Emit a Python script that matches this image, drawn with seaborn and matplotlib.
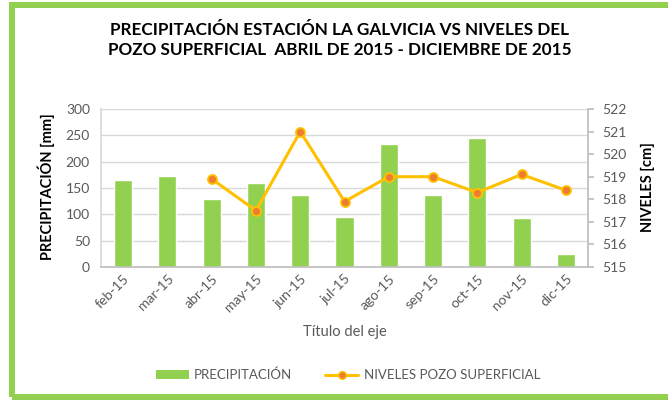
import matplotlib
matplotlib.use("Agg")
import matplotlib.pyplot as plt
from matplotlib.patches import Rectangle
from matplotlib.lines import Line2D
import seaborn as sns
import pandas as pd

months = ["feb-15", "mar-15", "abr-15", "may-15", "jun-15", "jul-15",
          "ago-15", "sep-15", "oct-15", "nov-15", "dic-15"]
precip = [165, 173, 129, 160, 136, 95, 233, 137, 244, 93, 25]
level_months = ["abr-15", "may-15", "jun-15", "jul-15", "ago-15",
                "sep-15", "oct-15", "nov-15", "dic-15"]
levels = [518.9, 517.5, 521.0, 517.9, 519.0, 519.0, 518.3, 519.1, 518.4]

title = ("PRECIPITACIÓN ESTACIÓN LA GALVICIA VS NIVELES DEL\n"
         "POZO SUPERFICIAL  ABRIL DE 2015 - DICIEMBRE DE 2015")
bar_label = "PRECIPITACIÓN"
line_label = "NIVELES POZO SUPERFICIAL"
xlabel = "Título del eje"
ylabel_left = "PRECIPITACIÓN [mm]"
ylabel_right = "NIVELES [cm]"

sns.set_theme(style="white")
plt.rcParams["font.family"] = ["Lato", "DejaVu Sans"]

GREEN = "#92D050"
YELLOW = "#FFC000"
ORANGE = "#ED7D31"
GRAY = "#595959"
GRID = "#D9D9D9"

fig = plt.figure(figsize=(6.68, 4.0), dpi=100)
ax = fig.add_axes([101 / 668, 1 - 267 / 400, (588 - 101) / 668, (267 - 109) / 400])

df_bar = pd.DataFrame({"mes": months, "precip": precip})
sns.barplot(data=df_bar, x="mes", y="precip", order=months, color=GREEN,
            saturation=1, width=0.41, ax=ax, label=bar_label, zorder=2)
ax.set_ylim(0, 300)
ax.set_yticks(range(0, 301, 50))
ax.set_xlim(-0.5, len(months) - 0.5)
ax.yaxis.grid(True, color=GRID, lw=1)
ax.set_axisbelow(True)
for s in ["top", "right"]:
    ax.spines[s].set_visible(False)
ax.spines["left"].set_color(GRID)
ax.spines["bottom"].set_color("#BFBFBF")
ax.tick_params(axis="y", length=0, labelsize=10, labelcolor=GRAY, pad=8)
ax.tick_params(axis="x", length=0, labelsize=10, labelcolor=GRAY, pad=4)
plt.setp(ax.get_xticklabels(), rotation=45, ha="right", rotation_mode="anchor")
ax.set_xlabel("")
ax.set_ylabel("")

ax2 = ax.twinx()
df_line = pd.DataFrame({"x": [months.index(m) for m in level_months], "nivel": levels})
sns.lineplot(data=df_line, x="x", y="nivel", ax=ax2, color=YELLOW, lw=2.2,
             marker="o", markersize=6.5, markerfacecolor=ORANGE,
             markeredgecolor=YELLOW, markeredgewidth=1.3, label=line_label, zorder=3)
ax2.set_ylim(515, 522)
ax2.set_yticks(range(515, 523))
ax2.set_xlim(-0.5, len(months) - 0.5)
for s in ["top", "left", "bottom"]:
    ax2.spines[s].set_visible(False)
ax2.spines["right"].set_color("#BFBFBF")
ax2.tick_params(axis="y", length=4, color="#BFBFBF", labelsize=10, labelcolor=GRAY, pad=6)
ax2.set_ylabel("")
ax2.set_xlabel("")
if ax2.get_legend():
    ax2.get_legend().remove()
if ax.get_legend():
    ax.get_legend().remove()

fig.text(340 / 668, 1 - 40 / 400, title, ha="center", va="center",
         fontsize=12.3, fontweight="bold", color="black", linespacing=1.3)
fig.text(46 / 668, 1 - 187 / 400, ylabel_left, rotation=90, ha="center", va="center",
         fontsize=10.5, fontweight="bold", color="black")
fig.text(648 / 668, 1 - 187 / 400, ylabel_right, rotation=90, ha="center", va="center",
         fontsize=10.5, fontweight="bold", color="black")
fig.text(345 / 668, 1 - 332 / 400, xlabel, ha="center", va="center",
         fontsize=10.5, color=GRAY)

handles = [Rectangle((0, 0), 1, 1, facecolor=GREEN, edgecolor="none"),
           Line2D([], [], color=YELLOW, lw=2.2, marker="o", markersize=5.5,
                  markerfacecolor=ORANGE, markeredgecolor=YELLOW, markeredgewidth=1.0)]
fig.legend(handles, [bar_label, line_label], loc="center",
           bbox_to_anchor=(348 / 668, 1 - 375 / 400), ncol=2, frameon=False,
           fontsize=9.5, labelcolor=GRAY, handlelength=2.5, handleheight=0.6,
           columnspacing=2.5, handletextpad=0.4)

fig.add_artist(Rectangle((12 / 668, 1 - 396.5 / 400), 1.1, (396.5 - 5) / 400,
                         transform=fig.transFigure, fill=False,
                         edgecolor=GREEN, lw=4.3, zorder=10))

fig.savefig("out.png", dpi=100, facecolor="white")
